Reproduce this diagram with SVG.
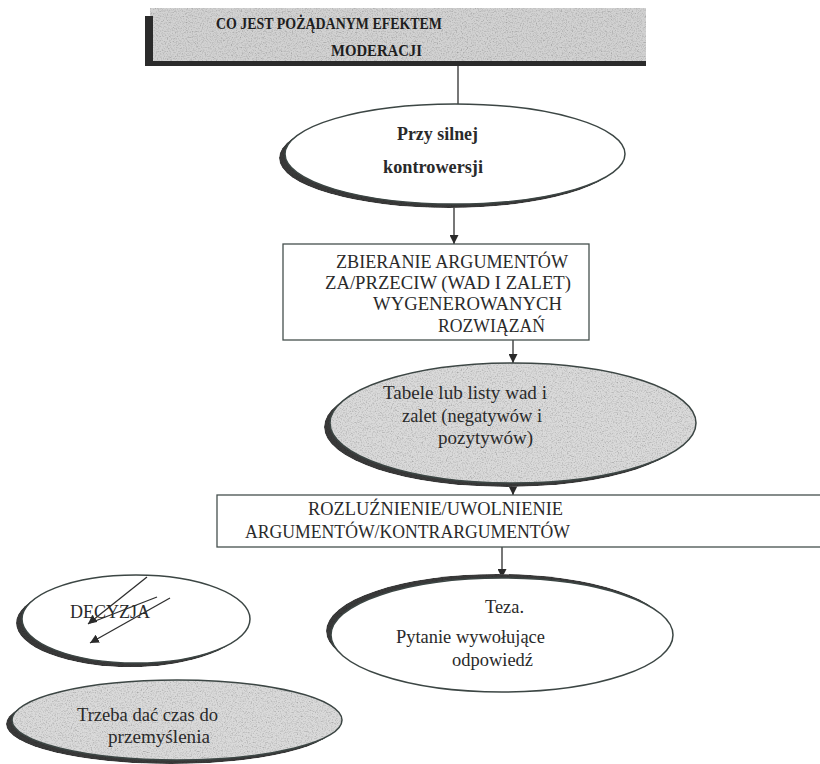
<svg xmlns="http://www.w3.org/2000/svg" width="820" height="764" viewBox="0 0 820 764">
<style>
  .t { font-family: "Liberation Serif", "Times New Roman", serif; fill: #2a2a2a; font-size: 18px; }
  .hb { font-family: "Liberation Serif", "Times New Roman", serif; font-weight: bold; fill: #1e1e1e; font-size: 17px; }
  .b { font-weight: bold; }
  .box { fill: #ffffff; stroke: #46504e; stroke-width: 1.3; }
  .ell { fill: #ffffff; stroke: #3c4644; stroke-width: 1.5; }
  .ellg { fill: #dadada; }
  .ellgs { fill: none; stroke: #3c4644; stroke-width: 1.5; }
  .shadow { fill: #3a3a3a; }
  .con { stroke: #2e2e2e; stroke-width: 1.3; fill: none; }
</style>
<defs>
  <filter id="grain" x="-5%" y="-5%" width="110%" height="110%" color-interpolation-filters="sRGB">
    <feTurbulence type="fractalNoise" baseFrequency="0.8" numOctaves="2" seed="4" result="t"/>
    <feColorMatrix in="t" type="matrix" values="0.25 0.25 0.25 0 0.6  0.25 0.25 0.25 0 0.6  0.25 0.25 0.25 0 0.6  0 0 0 0 1" result="g"/>
    <feBlend in="SourceGraphic" in2="g" mode="multiply" result="b"/>
    <feComposite in="b" in2="SourceGraphic" operator="in"/>
  </filter>
  <marker id="arr" viewBox="0 0 10 10" refX="10" refY="5" markerWidth="9" markerHeight="9" markerUnits="userSpaceOnUse" orient="auto">
    <path d="M0,0 L10,5 L0,10 z" fill="#2a2a2a"/>
  </marker>
</defs>
<rect width="820" height="764" fill="#ffffff"/>

<g id="header">
  <rect x="150" y="8" width="496" height="54" fill="#d2d2d2" filter="url(#grain)"/>
  <rect x="145" y="16" width="8" height="50" fill="#2b2b2b"/>
  <rect x="145" y="61" width="501" height="5" fill="#2b2b2b"/>
  <text class="hb" x="216" y="29" textLength="226" lengthAdjust="spacingAndGlyphs">CO JEST POŻĄDANYM EFEKTEM</text>
  <text class="hb" x="331" y="56" textLength="91" lengthAdjust="spacingAndGlyphs">MODERACJI</text>
</g>

<g id="connectors">
  <line class="con" x1="458" y1="66" x2="458" y2="104"/>
  <line class="con" x1="454" y1="205" x2="454" y2="244" marker-end="url(#arr)"/>
  <line class="con" x1="513" y1="340" x2="513" y2="363" marker-end="url(#arr)"/>
  <line class="con" x1="513" y1="483" x2="513" y2="495" marker-end="url(#arr)"/>
  <line class="con" x1="502" y1="547" x2="502" y2="578" marker-end="url(#arr)"/>
</g>

<g id="n1">
  <ellipse class="shadow" cx="449" cy="158" rx="170" ry="50" filter="url(#grain)"/>
  <ellipse class="ell" cx="455" cy="154" rx="170" ry="50"/>
  <text class="t b" x="397" y="140" textLength="81" lengthAdjust="spacingAndGlyphs">Przy silnej</text>
  <text class="t b" x="383" y="173" textLength="100" lengthAdjust="spacingAndGlyphs">kontrowersji</text>
</g>

<g id="n2">
  <rect class="box" x="283" y="244" width="306" height="96"/>
  <text class="t" x="336" y="268" textLength="232" lengthAdjust="spacingAndGlyphs">ZBIERANIE ARGUMENTÓW</text>
  <text class="t" x="325" y="289" textLength="246" lengthAdjust="spacingAndGlyphs">ZA/PRZECIW (WAD I ZALET)</text>
  <text class="t" x="373" y="310" textLength="189" lengthAdjust="spacingAndGlyphs">WYGENEROWANYCH</text>
  <text class="t" x="438" y="332" textLength="107" lengthAdjust="spacingAndGlyphs">ROZWIĄZAŃ</text>
</g>

<g id="n3">
  <ellipse class="shadow" cx="507" cy="427" rx="183" ry="60" filter="url(#grain)"/>
  <ellipse class="ellg" cx="513" cy="423" rx="183" ry="60" filter="url(#grain)"/>
  <ellipse class="ellgs" cx="513" cy="423" rx="183" ry="60"/>
  <text class="t" x="383" y="399" textLength="164" lengthAdjust="spacingAndGlyphs">Tabele lub listy  wad i</text>
  <text class="t" x="402" y="422" textLength="140" lengthAdjust="spacingAndGlyphs">zalet (negatywów i</text>
  <text class="t" x="438" y="444" textLength="95" lengthAdjust="spacingAndGlyphs">pozytywów)</text>
</g>

<g id="n4">
  <rect class="box" x="217" y="495" width="620" height="52"/>
  <text class="t" x="308" y="515" textLength="255" lengthAdjust="spacingAndGlyphs">ROZLUŹNIENIE/UWOLNIENIE</text>
  <text class="t" x="245" y="538" textLength="325" lengthAdjust="spacingAndGlyphs">ARGUMENTÓW/KONTRARGUMENTÓW</text>
</g>

<g id="n5">
  <ellipse class="shadow" cx="497" cy="631" rx="171" ry="57" filter="url(#grain)"/>
  <ellipse class="ell" cx="502" cy="635" rx="171" ry="57"/>
  <text class="t" x="485" y="613" textLength="39" lengthAdjust="spacingAndGlyphs">Teza.</text>
  <text class="t" x="396" y="643" textLength="149" lengthAdjust="spacingAndGlyphs">Pytanie wywołujące</text>
  <text class="t" x="452" y="666" textLength="81" lengthAdjust="spacingAndGlyphs">odpowiedź</text>
</g>

<g id="n6">
  <ellipse class="shadow" cx="130" cy="623" rx="114" ry="44" filter="url(#grain)"/>
  <ellipse class="ell" cx="136" cy="619" rx="114" ry="44"/>
  <text class="t" x="70" y="618" textLength="80" lengthAdjust="spacingAndGlyphs">DECYZJA</text>
  <line class="con" x1="147" y1="577" x2="88" y2="624" marker-end="url(#arr)"/>
  <line class="con" x1="157" y1="597" x2="90" y2="623"/>
  <line class="con" x1="170" y1="598" x2="90" y2="643" marker-end="url(#arr)"/>
</g>

<g id="n7">
  <ellipse class="shadow" cx="171" cy="724" rx="165" ry="40" filter="url(#grain)"/>
  <ellipse class="ellg" cx="177" cy="720" rx="165" ry="40" filter="url(#grain)"/>
  <ellipse class="ellgs" cx="177" cy="720" rx="165" ry="40"/>
  <text class="t" x="77" y="721" textLength="141" lengthAdjust="spacingAndGlyphs">Trzeba dać czas do</text>
  <text class="t" x="108" y="743" textLength="102" lengthAdjust="spacingAndGlyphs">przemyślenia</text>
</g>
</svg>
